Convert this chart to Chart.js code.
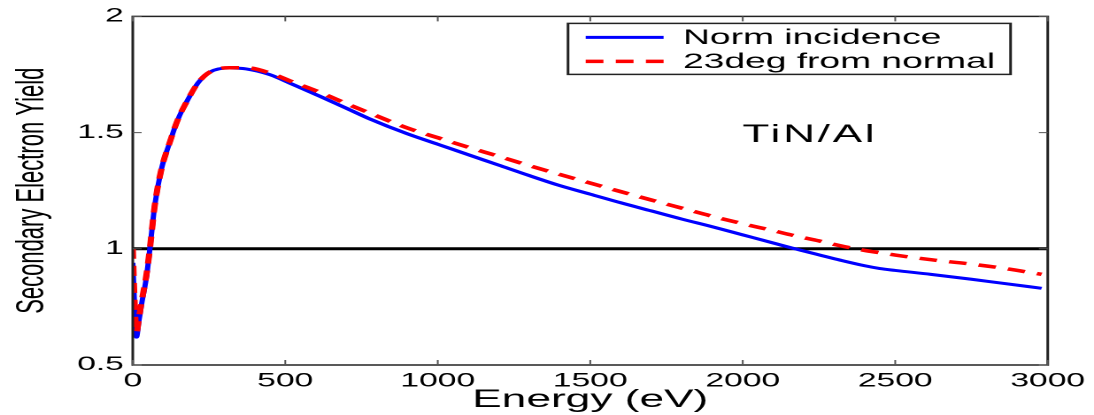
<!DOCTYPE html>
<html>
<head>
<meta charset="utf-8">
<script src="https://cdn.jsdelivr.net/npm/chart.js@4/dist/chart.umd.min.js"></script>
<style>
html, body { margin: 0; padding: 0; background: #fff; overflow: hidden; }
/* the source figure is a horizontally stretched matlab plot, so draw narrow and stretch */
#wrap { width: 618px; height: 415px; transform: scaleX(1.7702); transform-origin: 0 0; }
</style>
</head>
<body>
<div id="wrap"><canvas id="myChart"></canvas></div>
<script>
var energy = [0, 5, 12, 20, 30, 45, 56, 72, 94, 121, 148, 181, 214, 252, 317, 372, 448, 520, 612, 700,
    775, 900, 1000, 1100, 1200, 1300, 1400, 1500, 1600, 1700, 1800, 1900, 2000, 2100, 2171, 2250,
    2320, 2400, 2450, 2500, 2617, 2750, 2850, 2980];
var normIncidence = [0.94, 0.78, 0.62, 0.69, 0.77, 0.88, 1.0, 1.186, 1.343, 1.457, 1.557, 1.643, 1.714, 1.76, 1.778, 1.774, 1.75, 1.71, 1.657, 1.605,
    1.56, 1.495, 1.45, 1.405, 1.36, 1.315, 1.272, 1.235, 1.198, 1.163, 1.128, 1.095, 1.06, 1.025, 1.0, 0.974,
    0.951, 0.927, 0.915, 0.907, 0.89, 0.869, 0.852, 0.83];
var deg23 = [1.0, 0.80, 0.64, 0.70, 0.78, 0.89, 1.0, 1.186, 1.343, 1.457, 1.557, 1.643, 1.714, 1.76, 1.779, 1.779, 1.757, 1.72, 1.674, 1.625,
    1.585, 1.52, 1.478, 1.437, 1.398, 1.358, 1.32, 1.283, 1.246, 1.21, 1.175, 1.14, 1.108, 1.078, 1.056, 1.034,
    1.013, 0.993, 0.983, 0.973, 0.953, 0.934, 0.917, 0.89];
var unityEnergy = [0, 3000];
var unityYield = [1, 1];
var seriesNames = ['Norm incidence', '23deg from normal'];
var materialLabel = 'TiN/Al';

function pts(xs, ys) {
    return xs.map(function (x, i) { return { x: x, y: ys[i] }; });
}

var fontFam = '"Liberation Sans", Arial, Helvetica, sans-serif';

var framePlugin = {
    id: 'frame',
    afterDatasetsDraw: function (chart) {
        var ctx = chart.ctx, a = chart.chartArea;
        var xs = chart.scales.x, ys = chart.scales.y;
        ctx.save();
        ctx.strokeStyle = '#222';
        ctx.lineWidth = 1.5;
        ctx.strokeRect(a.left, a.top, a.right - a.left, a.bottom - a.top);

        // inward tick marks on all four sides
        ctx.strokeStyle = '#555';
        ctx.lineWidth = 1;
        ctx.beginPath();
        xs.ticks.forEach(function (t) {
            var px = xs.getPixelForValue(t.value);
            ctx.moveTo(px, a.bottom); ctx.lineTo(px, a.bottom - 5);
            ctx.moveTo(px, a.top); ctx.lineTo(px, a.top + 5);
        });
        ys.ticks.forEach(function (t) {
            var py = ys.getPixelForValue(t.value);
            ctx.moveTo(a.left, py); ctx.lineTo(a.left + 5, py);
            ctx.moveTo(a.right, py); ctx.lineTo(a.right - 5, py);
        });
        ctx.stroke();

        // material label
        ctx.fillStyle = '#000';
        ctx.font = '25px ' + fontFam;
        ctx.letterSpacing = '1.5px';
        ctx.textAlign = 'center';
        ctx.textBaseline = 'alphabetic';
        ctx.fillText(materialLabel, xs.getPixelForValue(2220), ys.getPixelForValue(1.46));
        ctx.letterSpacing = '0px';

        // legend box
        var bx = a.right - 271, by = a.top + 7, bw = 250, bh = 51;
        ctx.fillStyle = '#fff';
        ctx.fillRect(bx, by, bw, bh);
        ctx.strokeStyle = '#222';
        ctx.lineWidth = 1.5;
        ctx.strokeRect(bx, by, bw, bh);
        ctx.font = '21px ' + fontFam;
        ctx.textAlign = 'left';
        ctx.textBaseline = 'middle';
        var order = [1, 0];
        order.forEach(function (di, row) {
            var ds = chart.data.datasets[di];
            var ly = by + 14 + row * 24;
            ctx.strokeStyle = ds.borderColor;
            ctx.lineWidth = ds.borderWidth;
            ctx.setLineDash(ds.borderDash || []);
            ctx.beginPath();
            ctx.moveTo(bx + 10, ly);
            ctx.lineTo(bx + 54, ly);
            ctx.stroke();
            ctx.setLineDash([]);
            ctx.fillStyle = '#000';
            ctx.fillText(ds.label, bx + 65, ly + 1);
        });
        ctx.restore();
    }
};

var ctx = document.getElementById('myChart');
var myChart = new Chart(ctx, {
    type: 'line',
    data: {
        datasets: [{
            label: seriesNames[1],
            data: pts(energy, deg23),
            borderColor: '#ff0000',
            borderWidth: 3.5,
            borderDash: [10, 7],
            cubicInterpolationMode: 'monotone',
            pointRadius: 0,
            fill: false
        }, {
            label: seriesNames[0],
            data: pts(energy, normIncidence),
            borderColor: '#0000ff',
            borderWidth: 3,
            cubicInterpolationMode: 'monotone',
            pointRadius: 0,
            fill: false
        }, {
            label: 'unity',
            data: pts(unityEnergy, unityYield),
            borderColor: '#000000',
            borderWidth: 3,
            pointRadius: 0,
            fill: false
        }]
    },
    options: {
        responsive: true,
        maintainAspectRatio: false,
        animation: false,
        devicePixelRatio: 2,
        layout: { padding: { top: 15, right: 23, left: 0, bottom: 0 } },
        plugins: {
            legend: { display: false },
            tooltip: { enabled: false },
            title: { display: false }
        },
        scales: {
            x: {
                type: 'linear',
                min: 0,
                max: 3000,
                ticks: {
                    stepSize: 500, color: '#000', padding: 5, maxRotation: 0,
                    font: { size: 19, family: fontFam },
                    callback: function (v) { return String(v); }
                },
                grid: { display: false, drawTicks: false },
                border: { display: false },
                title: {
                    display: true,
                    text: 'Energy (eV)',
                    color: '#000',
                    font: { size: 25, family: fontFam },
                    padding: { top: 0, bottom: 0 }
                },
                afterFit: function (s) { s.height = 50; }
            },
            y: {
                min: 0.5,
                max: 2,
                ticks: {
                    stepSize: 0.5, color: '#000', padding: 5,
                    font: { size: 19, family: fontFam },
                    callback: function (v) { return String(v); }
                },
                grid: { display: false, drawTicks: false },
                border: { display: false },
                title: {
                    display: true,
                    text: 'Secondary Electron Yield',
                    color: '#000',
                    font: { size: 22, family: fontFam },
                    padding: { top: 5, bottom: 0 }
                },
                afterFit: function (s) { s.width = 75; }
            }
        }
    },
    plugins: [framePlugin]
});
</script>
</body>
</html>
